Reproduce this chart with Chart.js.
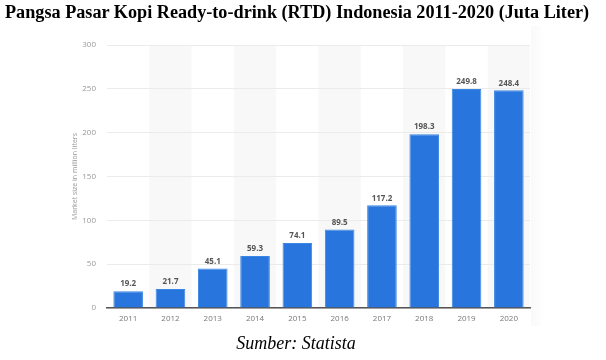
<!DOCTYPE html>
<html>
<head>
<meta charset="utf-8">
<script src="https://cdn.jsdelivr.net/npm/chart.js@4"></script>
<style>
    body { margin: 0; background: #fff; }
    #wrap { position: relative; width: 606px; height: 360px; }
    h2 {
        position: absolute; left: 5px; top: 2px; margin: 0;
        font: bold 18.2px "Liberation Serif", "Times New Roman", serif;
        color: #000; white-space: nowrap;
    }
    p.sumber {
        position: absolute; left: 0; width: 592px; top: 333px; margin: 0;
        font: italic 18px "Liberation Serif", "Times New Roman", serif;
        text-align: center; color: #000;
    }
    .sombra {
        position: absolute; left: 531px; top: 26px; width: 14px; height: 300px;
        background: linear-gradient(to right, rgba(0,0,0,0.025), rgba(0,0,0,0));
    }
    canvas { position: absolute; left: 0; top: 0; }
</style>
</head>
<body>
<div id="wrap">
    <div class="sombra"></div>
    <canvas id="grafico" width="606" height="360"></canvas>
    <h2>Pangsa Pasar Kopi Ready-to-drink (RTD) Indonesia 2011-2020 (Juta Liter)</h2>
    <p class="sumber">Sumber: Statista</p>
</div>
<script>
const tahun = ['2011', '2012', '2013', '2014', '2015', '2016', '2017', '2018', '2019', '2020'];
const volume = [19.2, 21.7, 45.1, 59.3, 74.1, 89.5, 117.2, 198.3, 249.8, 248.4];
const yTicks = [0, 50, 100, 150, 200, 250, 300];

const biru = '#2876dd';

// faixas cinza alternadas atras das barras
const faixas = {
    id: 'faixas',
    beforeDraw(chart) {
        const { ctx, chartArea, scales } = chart;
        const x = scales.x;
        const largura = x.getPixelForValue(1) - x.getPixelForValue(0);
        ctx.save();
        ctx.fillStyle = '#f8f8f8';
        tahun.forEach((t, i) => {
            if (i % 2 === 1) {
                const c = x.getPixelForValue(i);
                ctx.fillRect(c - largura / 2, chartArea.top, largura, chartArea.bottom - chartArea.top);
            }
        });
        ctx.restore();
    }
};

// rotulos de valor acima das barras
const rotulos = {
    id: 'rotulos',
    afterDatasetsDraw(chart) {
        const { ctx } = chart;
        const meta = chart.getDatasetMeta(0);
        ctx.save();
        ctx.font = 'bold 8px "Open Sans", sans-serif';
        ctx.fillStyle = '#555';
        ctx.textAlign = 'center';
        ctx.textBaseline = 'bottom';
        meta.data.forEach((bar, i) => {
            ctx.fillText(volume[i].toFixed(1), bar.x, bar.y - 3);
        });
        ctx.restore();
    }
};

const ctx = document.getElementById('grafico').getContext('2d');
const grafico = new Chart(ctx, {
    type: 'bar',
    data: {
        labels: tahun,
        datasets: [{
            label: 'Market size in million liters',
            data: volume,
            backgroundColor: biru,
            borderColor: '#3a86e3',
            borderWidth: 1,
            categoryPercentage: 1,
            barPercentage: 0.7
        }]
    },
    plugins: [faixas, rotulos],
    options: {
        responsive: false,
        animation: false,
        layout: {
            padding: { left: 67, right: 76, top: 45, bottom: 0 }
        },
        plugins: {
            legend: { display: false },
            tooltip: { enabled: false }
        },
        scales: {
            x: {
                grid: { display: false, drawTicks: false },
                border: { display: true, color: '#555', width: 1.5 },
                ticks: {
                    color: '#777',
                    font: { size: 8, family: '"Open Sans", sans-serif' },
                    padding: 6,
                    maxRotation: 0
                },
                afterFit: s => { s.height = 52; }
            },
            y: {
                min: 0,
                max: 300,
                afterBuildTicks: s => { s.ticks = yTicks.map(v => ({ value: v })); },
                grid: { color: '#ebebeb', drawTicks: false },
                border: { display: false },
                ticks: {
                    color: '#999',
                    font: { size: 8, family: '"Open Sans", sans-serif' },
                    padding: 11
                },
                title: {
                    display: true,
                    text: 'Market size in million liters',
                    color: '#999',
                    font: { size: 7, family: '"Open Sans", sans-serif' },
                    padding: { top: 4, bottom: 0 }
                },
                afterFit: s => { s.width = 40; }
            }
        }
    }
});
</script>
</body>
</html>
